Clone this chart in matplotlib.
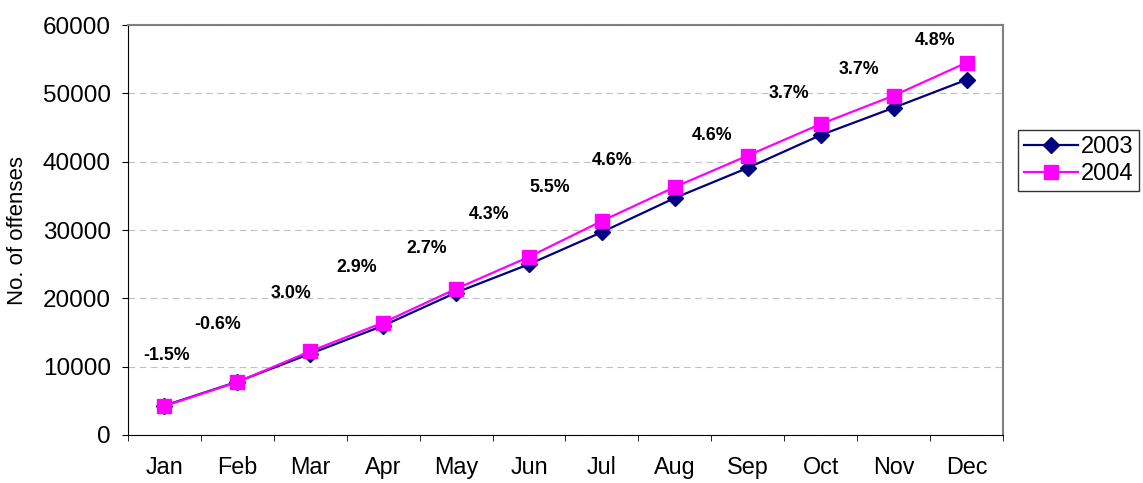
import numpy as np
import matplotlib
matplotlib.use("Agg")
import matplotlib.pyplot as plt

plt.rcParams["font.family"] = ["Liberation Sans", "DejaVu Sans"]

months = ["Jan", "Feb", "Mar", "Apr", "May", "Jun", "Jul", "Aug", "Sep", "Oct", "Nov", "Dec"]
y2003 = [4300, 7800, 11900, 16000, 20850, 25000, 29700, 34700, 39100, 43900, 47900, 52000]
y2004 = [4240, 7750, 12250, 16450, 21400, 26080, 31330, 36300, 40900, 45520, 49670, 54500]
pct = ["-1.5%", "-0.6%", "3.0%", "2.9%", "2.7%", "4.3%", "5.5%", "4.6%", "4.6%", "3.7%", "3.7%", "4.8%"]
# where the change labels sit (category units, offenses)
pct_x = [0.03, 0.73, 1.74, 2.63, 3.59, 4.45, 5.29, 6.14, 7.51, 8.56, 9.52, 10.57]
pct_y = [11700, 16240, 20640, 24590, 27370, 32340, 36290, 40240, 43900, 50060, 53570, 57810]

fig = plt.figure(figsize=(11.43, 4.83), dpi=100)
ax = fig.add_axes([0.112, 0.0994, 0.7655, 0.8486])
x = np.arange(len(months))
ax.plot(x, y2003, color="#000080", lw=1.6, marker="D", ms=8, label="2003", zorder=3)
ax.plot(x, y2004, color="#FF00FF", lw=1.6, marker="s", ms=10.5, label="2004", zorder=4)
for xi, yi, t in zip(pct_x, pct_y, pct):
    ax.text(xi, yi, t, ha="center", va="center", fontsize=12.8, fontweight="bold")

ax.set_xlim(-0.5, 11.5)
ax.set_ylim(0, 60000)
ax.set_yticks(range(0, 60001, 10000))
ax.set_xticks(x)
ax.set_xticklabels(months)
ax.set_xticks(np.arange(-0.5, 12, 1), minor=True)
ax.tick_params(axis="x", which="major", length=0, labelsize=16.8, pad=15)
ax.tick_params(axis="x", which="minor", length=4.5, direction="out")
ax.tick_params(axis="y", length=4.5, labelsize=17.5, pad=8)
ax.grid(axis="y", color="#c0c0c0", ls=(0, (6, 4)), lw=0.8)
ax.set_axisbelow(True)
for s in ["top", "right"]:
    ax.spines[s].set_color("#808080")
    ax.spines[s].set_linewidth(1.5)
ax.set_ylabel("No. of offenses", fontsize=16)
ax.yaxis.set_label_coords(-0.114, 0.5)

ax.legend(loc="upper left", bbox_to_anchor=(1.017, 0.743), fontsize=17, frameon=True,
          fancybox=False, edgecolor="black", handlelength=2.3, borderpad=0.25,
          labelspacing=0.2, handletextpad=0.1, borderaxespad=0)

fig.savefig("out.png", dpi=100)
